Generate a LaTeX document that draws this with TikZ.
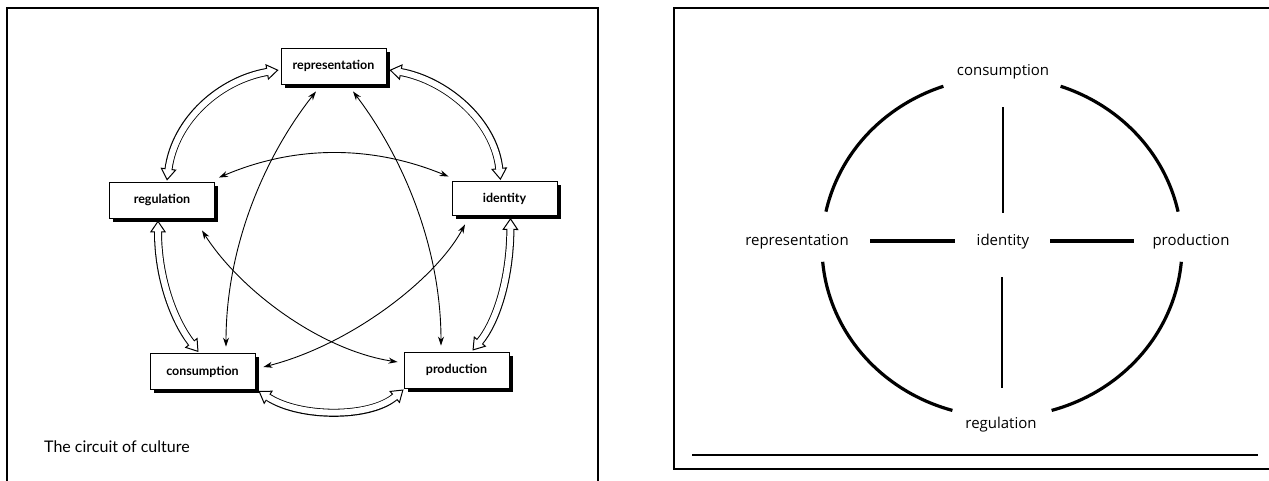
\documentclass[tikz,border=0pt]{standalone}
\usepackage{fontspec}
\newfontfamily\gillfont{Lato}
\newfontfamily\frufont{Open Sans}
\usetikzlibrary{arrows.meta,calc,shadows}
\newcommand\hollowpath[1]{%
  \draw[line width=8pt, {Triangle[length=12pt,width=16pt,fill=white,line width=1pt]}-{Triangle[length=12pt,width=16pt,fill=white,line width=1pt]}] #1;
  \draw[line width=6pt, white, shorten <=10.5pt, shorten >=10.5pt] #1;
}
\begin{document}
\begin{tikzpicture}[x=1pt,y=-1pt,
  box/.style={draw=black,line width=0.9pt,fill=white,minimum width=105pt,minimum height=36pt,inner sep=0pt,
    font=\gillfont\bfseries\fontsize{12.5}{14}\selectfont,
    drop shadow={shadow xshift=3.5pt,shadow yshift=-3.5pt,opacity=1,fill=black}},
  tharrow/.style={line width=0.9pt,{Stealth[length=9pt,width=6pt]}-{Stealth[length=9pt,width=6pt]}},
  frame/.style={line width=2.2pt,line cap=rect},
  lbl/.style={font=\frufont\fontsize{15}{18}\selectfont,inner sep=0pt},
  ring/.style={line width=3.2pt},
  cross/.style={line width=3.2pt}
]
\useasboundingbox (0,0) rectangle (1269,480);
% ---------- left panel ----------
\draw[frame] (7,481) -- (7,8) -- (598,8) -- (598,481);
\node[box] (rep)  at (333.5,66)  {representation};
\node[box] (reg)  at (162,200)   {regulation};
\node[box,minimum height=34pt] (iden) at (504.5,198.5) {identity};
\node[box] (cons) at (202.5,371.5) {consumption};
\node[box] (prod) at (456.5,370) {production};

% hollow arrows round the circuit
\hollowpath{($(rep.west)+(-2,4)$) .. controls (220,80) and (175,120) .. ($(reg.north)+(5,-1)$)}
\hollowpath{($(rep.east)+(3,4)$) .. controls (445,80) and (494,120) .. ($(iden.north)+(-4,-1)$)}
\hollowpath{($(reg.south)+(-4,2)$) .. controls (158,280) and (175,322) .. ($(cons.north)+(-4,-1)$)}
\hollowpath{($(iden.south)+(6,2)$) .. controls (510,280) and (496,322) .. ($(prod.north)+(16,-1)$)}
\hollowpath{($(cons.south east)+(3,1)$) .. controls (300,418) and (370,418) .. ($(prod.south west)+(0,1)$)}

% thin arrows
\draw[tharrow] ($(rep.south)+(-17.5,7)$) .. controls (262,160) and (226,250) .. ($(cons.north)+(23.5,-6.5)$);
\draw[tharrow] ($(rep.south)+(19.5,7)$) .. controls (405,160) and (441,250) .. ($(prod.north)+(-15.5,-6)$);
\draw[tharrow] ($(reg.north east)+(4,-4)$) .. controls (295,145) and (372,145) .. ($(iden.north west)+(-3,-4.5)$);
\draw[tharrow] ($(reg.south)+(40,12)$) .. controls (240,290) and (320,350) .. ($(prod.west)+(-6,-8)$);
\draw[tharrow] ($(iden.south)+(-39.5,8.5)$) .. controls (435,280) and (350,345) .. ($(cons.east)+(8,-4.5)$);

\node[anchor=base west,inner sep=0pt,font=\gillfont\fontsize{16}{18}\selectfont] (cap) at (44,452) {The circuit of culture};

% ---------- right panel ----------
\draw[frame] (1270,8) -- (674,8) -- (674,469) -- (1270,469);
\draw[line width=1.5pt] (692,455) -- (1258,455);

\node[lbl] (rcons) at (1003,72)  {consumption};
\node[lbl] (riden) at (1003,242) {identity};
\node[lbl] (rrep)  at (797,242)  {representation};
\node[lbl] (rprod) at (1191,242) {production};
\node[lbl] (rreg)  at (1001,425) {regulation};

\draw[ring] plot[domain=-168:-109,samples=40] ({1002+180*cos(\x)},{247+170*sin(\x)});
\draw[ring] plot[domain=-71:-12,samples=40] ({1002+180*cos(\x)},{247+170*sin(\x)});
\draw[ring] plot[domain=5:74,samples=40] ({1002+180*cos(\x)},{247+170*sin(\x)});
\draw[ring] plot[domain=106:175,samples=40] ({1002+180*cos(\x)},{247+170*sin(\x)});

\coordinate (vu1) at (1003,107); \coordinate (vu2) at (1003,213);
\coordinate (vd1) at (1002,277); \coordinate (vd2) at (1002,388);
\coordinate (hl1) at (870,241);  \coordinate (hl2) at (955,241);
\coordinate (hr1) at (1050,241); \coordinate (hr2) at (1134,241);
\draw[line width=2.5pt] (vu1) -- (vu2);
\draw[line width=2.5pt] (vd1) -- (vd2);
\draw[cross] (hl1) -- (hl2);
\draw[cross] (hr1) -- (hr2);
\end{tikzpicture}
\end{document}
